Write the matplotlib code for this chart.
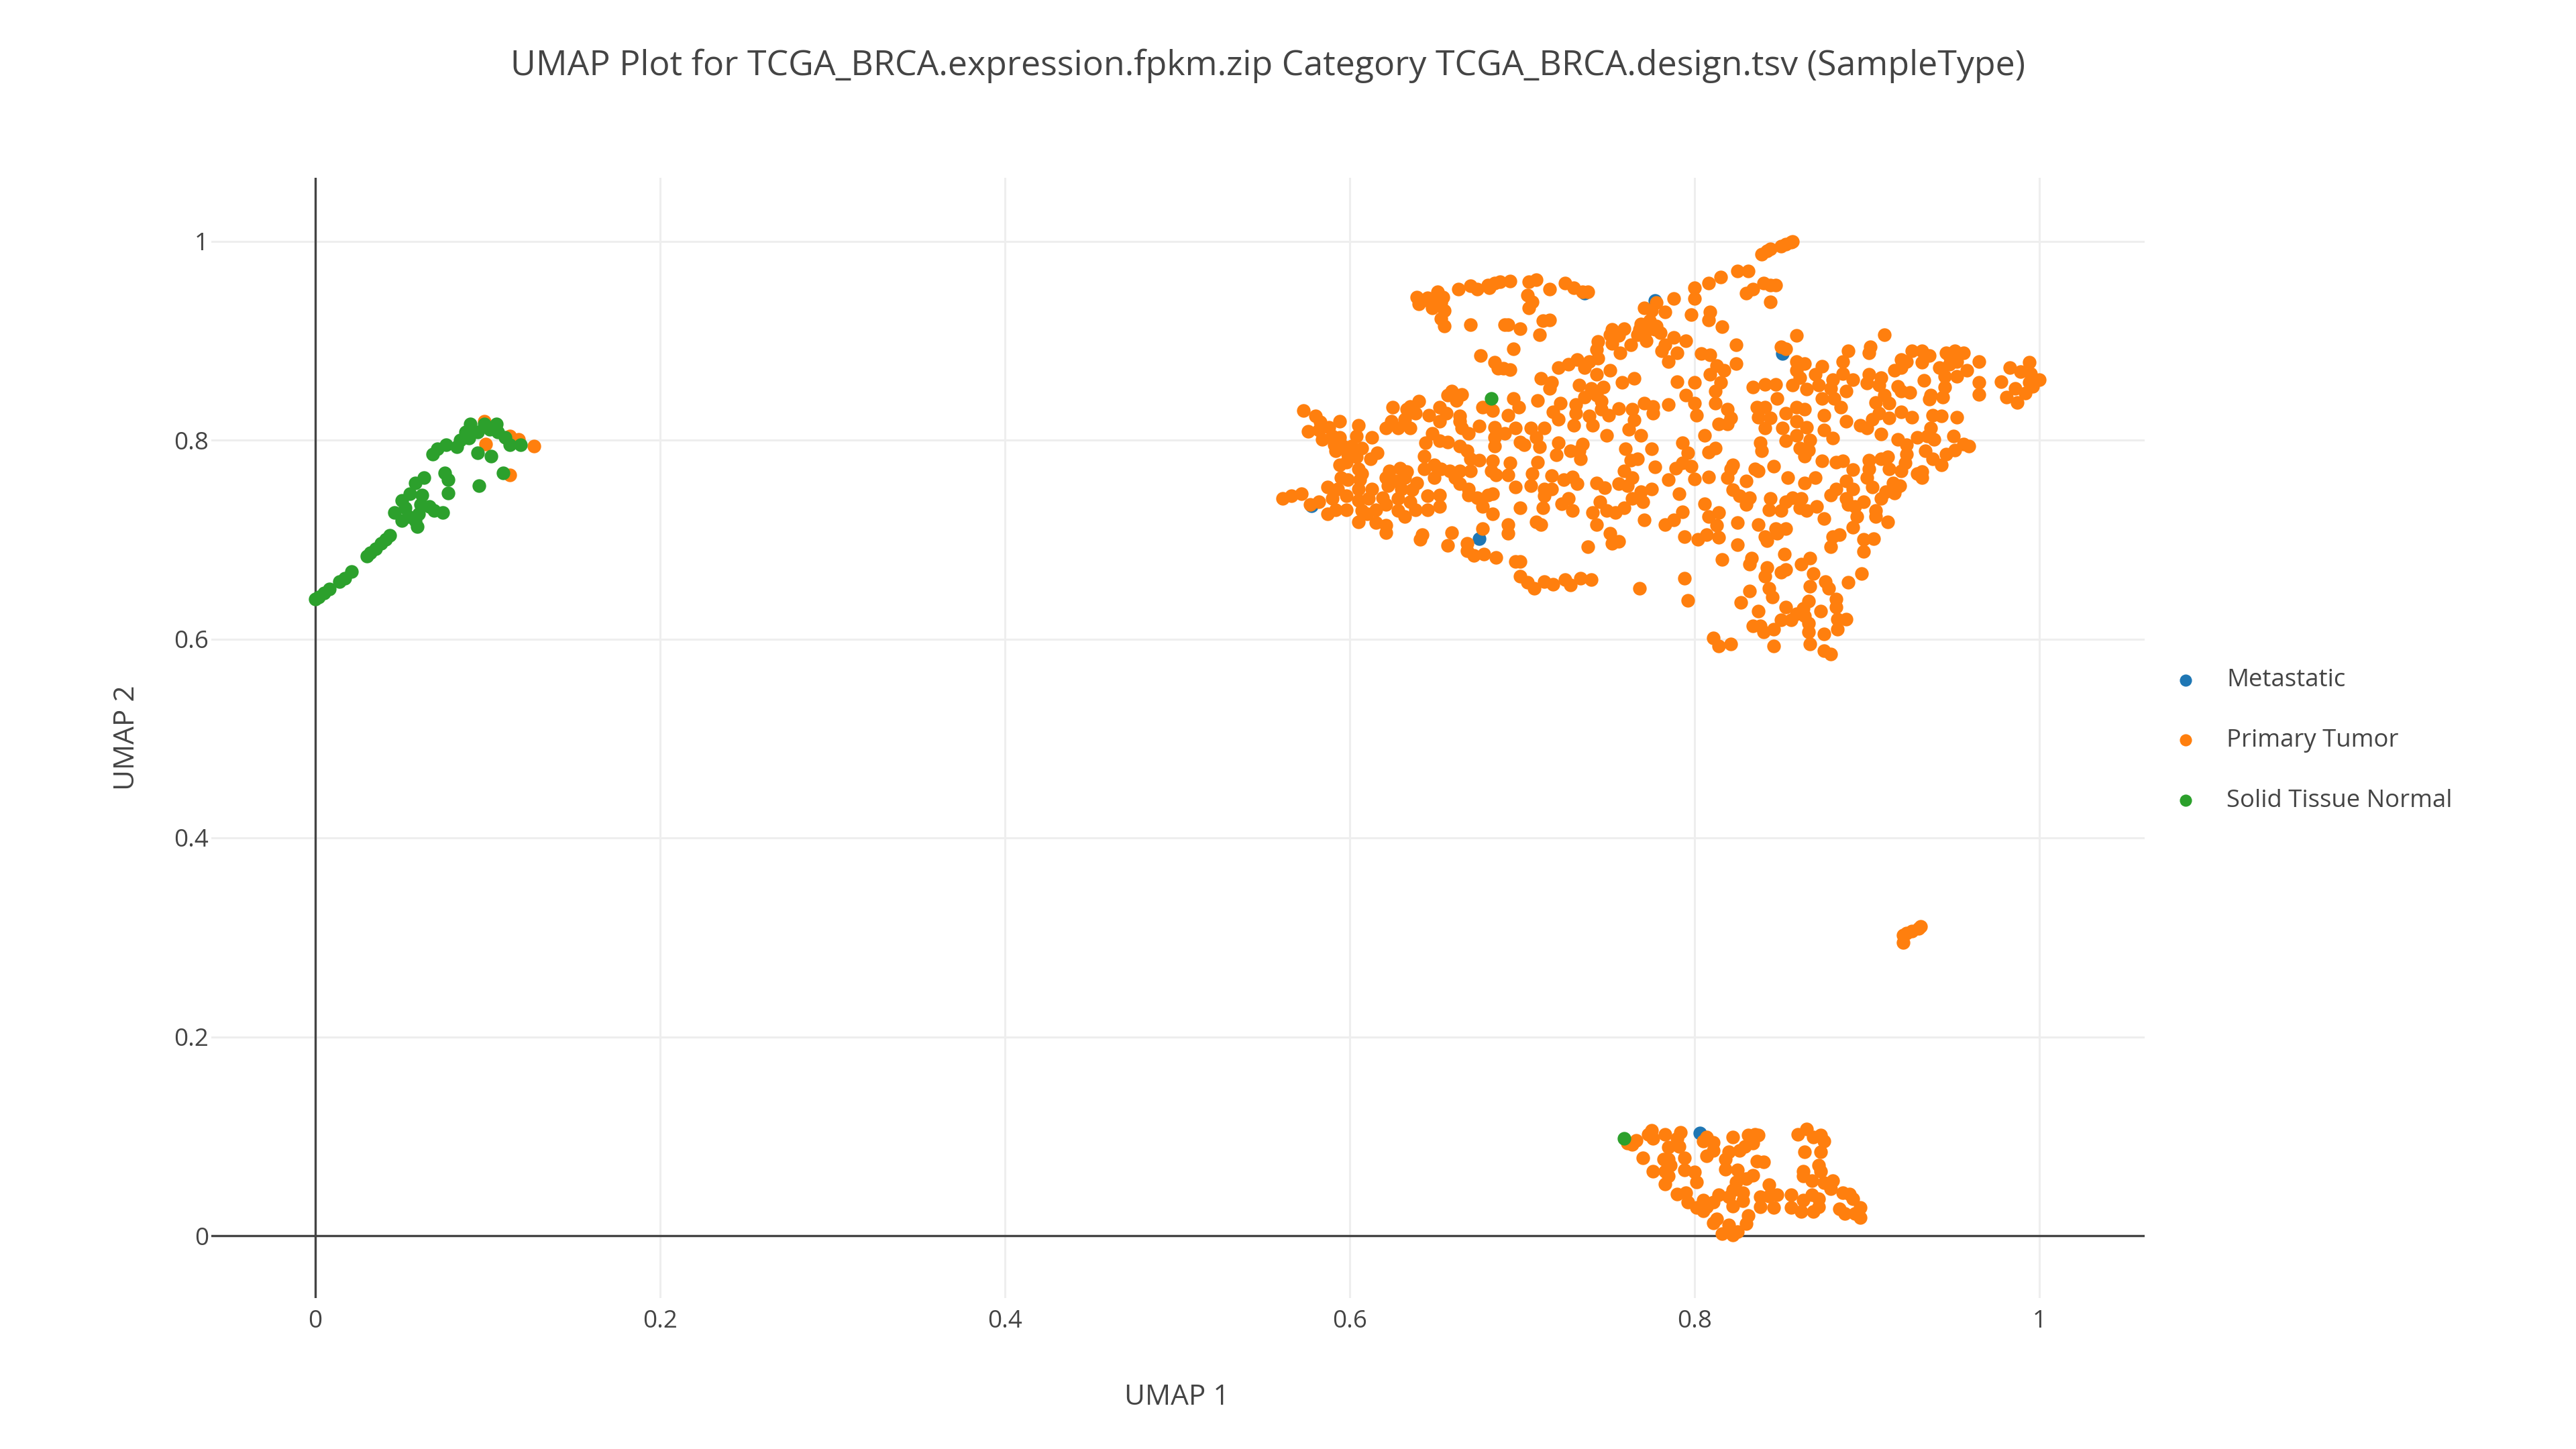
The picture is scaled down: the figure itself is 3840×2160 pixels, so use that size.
# coding:utf-8
import numpy as np
import matplotlib
matplotlib.use("Agg")
import matplotlib.pyplot as plt

plt.rcParams['font.family'] = ['Open Sans', 'DejaVu Sans']

title = "UMAP Plot for TCGA_BRCA.expression.fpkm.zip Category TCGA_BRCA.design.tsv (SampleType)"
tick_vals = [0, 0.2, 0.4, 0.6, 0.8, 1]
tick_labels = ["0", "0.2", "0.4", "0.6", "0.8", "1"]
legend_names = ["Metastatic", "Primary Tumor", "Solid Tissue Normal"]

# values, (UMAP 1, UMAP 2)
metastatic = [(.578, .734), (.675, .701), (.736, .948), (.777, .940), (.851, .887),
              (.803, .103), (.916, .755)]

solid_normal = [
    (.000, .640), (.002, .642), (.005, .646), (.008, .650), (.014, .658), (.017, .661),
    (.021, .668), (.030, .683), (.032, .687), (.035, .691), (.038, .696), (.041, .700),
    (.043, .704), (.046, .727), (.050, .719), (.050, .739), (.052, .732), (.055, .746),
    (.058, .757), (.063, .762), (.054, .723), (.059, .713), (.060, .726), (.062, .745),
    (.061, .735), (.066, .733), (.069, .729), (.074, .727), (.058, .719), (.068, .786),
    (.071, .791), (.076, .795), (.082, .793), (.084, .800), (.089, .802), (.087, .808),
    (.090, .816), (.094, .808), (.098, .816), (.101, .811), (.105, .816), (.106, .808),
    (.110, .803), (.113, .795), (.119, .795), (.094, .787), (.102, .784), (.109, .767),
    (.095, .754), (.075, .767), (.077, .760), (.077, .747),
    (.682, .842), (.759, .098),
]

tumor_near_normal = [(.098, .819), (.099, .796), (.113, .804), (.118, .801), (.127, .794), (.113, .765)]

tumor_left = [
    (.561, .741), (.566, .744), (.572, .746), (.573, .830), (.580, .824), (.583, .818),
    (.576, .809), (.582, .810), (.588, .813), (.594, .819), (.584, .801), (.590, .804),
    (.594, .803), (.591, .795), (.596, .794), (.592, .789), (.601, .794), (.607, .792),
    (.599, .786), (.604, .783), (.594, .775), (.598, .778), (.605, .815), (.604, .804),
    (.613, .803), (.616, .787), (.612, .781), (.605, .771), (.607, .766), (.606, .760),
    (.595, .762), (.599, .760), (.587, .753), (.593, .751), (.605, .751), (.613, .751),
    (.598, .744), (.590, .741), (.582, .738), (.577, .735), (.587, .726), (.592, .730),
    (.598, .730), (.605, .739), (.611, .741), (.619, .742), (.607, .729), (.610, .726),
    (.615, .730), (.605, .718), (.615, .717), (.621, .714), (.621, .707), (.623, .769),
    (.629, .772), (.633, .768), (.621, .762), (.627, .759), (.632, .762), (.639, .757),
    (.622, .754), (.630, .751), (.636, .750), (.628, .741), (.621, .735), (.628, .729),
    (.632, .723), (.638, .730), (.635, .738), (.645, .744), (.652, .745), (.645, .730),
    (.652, .733), (.625, .833), (.635, .834), (.640, .839), (.638, .827), (.633, .831),
    (.646, .825), (.652, .833), (.652, .819), (.656, .827), (.664, .824), (.664, .819),
    (.624, .819), (.621, .812), (.628, .812), (.632, .821), (.635, .812), (.657, .845),
    (.659, .849), (.665, .846), (.662, .840), (.677, .833), (.683, .830), (.675, .814),
    (.665, .812), (.669, .807), (.684, .813), (.684, .803), (.690, .807), (.684, .794),
    (.648, .807), (.644, .797), (.652, .799), (.657, .798), (.664, .794), (.668, .789),
    (.670, .781), (.675, .780), (.643, .784), (.643, .771), (.649, .775), (.653, .771),
    (.649, .762), (.658, .769), (.664, .769), (.670, .769), (.661, .762), (.664, .756),
    (.669, .751), (.669, .745), (.674, .742), (.680, .745), (.683, .746), (.677, .733),
    (.683, .726), (.683, .779), (.682, .769), (.685, .765), (.642, .705), (.641, .700),
    (.659, .707), (.657, .694), (.677, .711), (.668, .696), (.668, .689), (.672, .684),
    (.678, .685), (.685, .682), (.639, .944), (.640, .937), (.645, .943), (.651, .949),
    (.654, .944), (.653, .938), (.648, .933), (.655, .930), (.653, .922), (.655, .915),
    (.644, .941), (.650, .941), (.670, .916), (.690, .916), (.663, .952), (.670, .955),
    (.674, .952), (.680, .956), (.684, .958), (.681, .953), (.687, .959), (.676, .885),
    (.686, .872), (.684, .878), (.689, .872),
]

tumor_middle = [
    (.693, .960), (.704, .959), (.708, .961), (.716, .952), (.725, .958), (.730, .953),
    (.735, .949), (.738, .949), (.703, .946), (.706, .939), (.704, .933), (.712, .920),
    (.716, .921), (.710, .906), (.699, .912), (.692, .916), (.695, .892), (.693, .871),
    (.721, .873), (.727, .876), (.732, .881), (.739, .879), (.736, .873), (.744, .882),
    (.743, .866), (.751, .870), (.711, .862), (.717, .858), (.716, .852), (.758, .858),
    (.765, .862), (.733, .855), (.740, .852), (.747, .853), (.736, .843), (.743, .845),
    (.746, .839), (.731, .836), (.709, .840), (.722, .837), (.718, .828), (.721, .821),
    (.731, .827), (.730, .815), (.739, .824), (.741, .815), (.746, .831), (.750, .825),
    (.756, .832), (.764, .831), (.765, .820), (.762, .811), (.769, .805), (.749, .805),
    (.695, .842), (.698, .833), (.692, .825), (.705, .812), (.696, .812), (.713, .812),
    (.708, .803), (.699, .798), (.701, .795), (.710, .793), (.721, .797), (.720, .785),
    (.728, .789), (.735, .796), (.733, .789), (.734, .781), (.709, .778), (.706, .766),
    (.705, .754), (.693, .777), (.696, .753), (.692, .765), (.717, .764), (.724, .760),
    (.729, .763), (.732, .756), (.713, .751), (.717, .751), (.713, .744), (.699, .732),
    (.712, .732), (.723, .736), (.727, .741), (.729, .729), (.708, .718), (.711, .715),
    (.692, .715), (.692, .706), (.743, .757), (.748, .752), (.756, .756), (.759, .769),
    (.764, .762), (.761, .754), (.775, .751), (.769, .748), (.764, .741), (.770, .738),
    (.745, .738), (.749, .729), (.754, .727), (.759, .732), (.741, .727), (.743, .715),
    (.771, .720), (.751, .706), (.752, .696), (.756, .698), (.738, .693), (.760, .791),
    (.775, .791), (.763, .780), (.767, .781), (.777, .773), (.771, .837), (.776, .834),
    (.776, .827), (.785, .836), (.696, .678), (.699, .678), (.699, .663), (.703, .657),
    (.707, .651), (.713, .658), (.718, .655), (.725, .660), (.728, .654), (.734, .661),
    (.740, .660), (.768, .651),
]

tumor_upper = [
    (.788, .942), (.778, .938), (.783, .929), (.771, .933), (.775, .930), (.769, .917),
    (.774, .920), (.778, .915), (.768, .911), (.773, .911), (.777, .911), (.780, .908),
    (.772, .900), (.767, .906), (.751, .906), (.752, .911), (.759, .912), (.756, .905),
    (.763, .896), (.757, .888), (.752, .897), (.744, .899), (.743, .891), (.788, .903),
    (.783, .896), (.781, .890), (.795, .900), (.790, .888), (.785, .879), (.798, .926),
    (.809, .929), (.808, .921), (.816, .914), (.824, .896), (.824, .877), (.800, .953),
    (.800, .942), (.808, .958), (.815, .964), (.825, .970), (.831, .970), (.839, .987),
    (.844, .992), (.850, .995), (.856, .999), (.857, 1.0), (.853, .997), (.842, .990),
    (.830, .948), (.834, .952), (.840, .958), (.844, .956), (.847, .956), (.844, .939),
    (.859, .905), (.910, .906), (.850, .894), (.853, .892),
]

tumor_right = [
    (.859, .879), (.864, .877), (.859, .870), (.874, .874), (.870, .866), (.861, .863),
    (.857, .855), (.865, .851), (.872, .855), (.889, .890), (.886, .879), (.902, .894),
    (.901, .888), (.880, .861), (.886, .867), (.892, .861), (.888, .849), (.879, .852),
    (.874, .842), (.881, .842), (.901, .866), (.908, .863), (.900, .857), (.907, .855),
    (.916, .870), (.920, .873), (.920, .881), (.926, .890), (.923, .879), (.932, .890),
    (.936, .885), (.932, .878), (.946, .888), (.951, .890), (.956, .888), (.942, .873),
    (.948, .876), (.952, .879), (.945, .864), (.952, .864), (.958, .870), (.948, .884),
    (.965, .879), (.983, .873), (.978, .859), (.994, .878), (.989, .869), (.995, .867),
    (1.0, .861), (.994, .858), (.996, .854), (.986, .852), (.992, .847), (.981, .843),
    (.987, .838), (.965, .858), (.965, .846), (.933, .860), (.945, .853), (.937, .845),
    (.936, .841), (.944, .843), (.918, .854), (.925, .848), (.910, .845), (.905, .838),
    (.913, .837), (.920, .849), (.920, .828), (.926, .823), (.938, .825), (.943, .824),
    (.952, .823), (.907, .827), (.903, .821), (.913, .822), (.896, .815), (.900, .812),
    (.908, .806), (.918, .801), (.937, .812), (.929, .803), (.935, .804), (.939, .801),
    (.950, .804), (.923, .795), (.923, .786), (.956, .796), (.959, .794), (.951, .790),
    (.946, .786), (.934, .789), (.938, .781), (.943, .775), (.922, .777), (.920, .769),
    (.929, .766), (.932, .768), (.932, .762), (.919, .754), (.916, .747), (.911, .748),
    (.908, .741), (.912, .783), (.908, .781), (.901, .780), (.913, .771), (.901, .771),
    (.900, .762), (.903, .753), (.892, .770), (.892, .751), (.888, .759), (.882, .751),
    (.879, .745), (.874, .779), (.882, .778), (.886, .779), (.915, .757), (.917, .752),
]

tumor_center = [
    (.790, .859), (.800, .858), (.804, .887), (.809, .886), (.813, .875), (.817, .870),
    (.809, .866), (.815, .858), (.812, .849), (.812, .837), (.795, .845), (.800, .837),
    (.801, .825), (.834, .853), (.841, .856), (.847, .856), (.848, .842), (.793, .797),
    (.796, .787), (.806, .805), (.808, .788), (.812, .792), (.789, .772), (.793, .777),
    (.798, .774), (.800, .761), (.785, .760), (.808, .763), (.791, .746), (.819, .762),
    (.821, .771), (.822, .775), (.830, .759), (.835, .771), (.837, .769), (.846, .774),
    (.854, .762), (.864, .757), (.870, .762), (.822, .750), (.826, .744), (.832, .742),
    (.830, .735), (.806, .736), (.808, .723), (.814, .727), (.813, .714), (.793, .728),
    (.788, .720), (.783, .715), (.794, .703), (.802, .700), (.807, .705), (.814, .702),
    (.825, .717), (.837, .715), (.825, .695), (.794, .661), (.796, .639), (.819, .831),
    (.821, .822), (.814, .816), (.819, .816), (.836, .833), (.841, .833), (.837, .823),
    (.844, .822), (.841, .812), (.851, .812), (.853, .827), (.859, .833), (.864, .831),
    (.859, .819), (.865, .813), (.859, .805), (.838, .797), (.839, .789), (.853, .799),
    (.867, .800), (.861, .792), (.866, .790), (.864, .784), (.875, .825), (.875, .810),
    (.880, .802), (.885, .833), (.888, .819),
]

tumor_lower = [
    (.888, .741), (.893, .733), (.889, .735), (.898, .738), (.905, .729), (.905, .723),
    (.912, .718), (.894, .723), (.892, .712), (.880, .703), (.884, .705), (.879, .693),
    (.898, .700), (.904, .701), (.898, .688), (.875, .721), (.871, .733), (.865, .729),
    (.861, .732), (.857, .742), (.862, .741), (.853, .738), (.844, .741), (.843, .730),
    (.850, .729), (.847, .711), (.853, .711), (.841, .703), (.842, .699), (.848, .706),
    (.852, .685), (.867, .681), (.862, .675), (.869, .666), (.897, .666), (.889, .657),
    (.853, .670), (.850, .667), (.842, .672), (.841, .663), (.833, .681), (.832, .675),
    (.816, .680), (.843, .651), (.845, .642), (.832, .648), (.827, .637), (.867, .653),
    (.876, .658), (.878, .651), (.882, .640), (.882, .632), (.866, .638), (.863, .631),
    (.859, .625), (.853, .632), (.837, .628), (.850, .619), (.856, .619), (.864, .623),
    (.873, .628), (.883, .620), (.888, .620), (.838, .613), (.834, .613), (.846, .610),
    (.840, .607), (.866, .616), (.866, .607), (.883, .610), (.875, .605), (.867, .595),
    (.846, .593), (.875, .588), (.879, .585), (.811, .601), (.814, .593), (.821, .595),
]

tumor_bottom = [
    (.764, .092), (.766, .096), (.761, .093), (.775, .106), (.773, .102), (.776, .098),
    (.783, .102), (.792, .104), (.790, .098), (.791, .090), (.785, .089), (.807, .099),
    (.805, .095), (.811, .094), (.811, .086), (.807, .080), (.770, .078), (.776, .065),
    (.782, .077), (.785, .077), (.786, .071), (.783, .065), (.785, .060), (.783, .052),
    (.794, .078), (.794, .066), (.800, .064), (.801, .054), (.822, .099), (.831, .101),
    (.835, .102), (.837, .101), (.834, .093), (.829, .090), (.826, .086), (.820, .084),
    (.818, .077), (.836, .075), (.840, .074), (.818, .067), (.825, .066), (.834, .061),
    (.830, .057), (.824, .054), (.843, .051), (.848, .041), (.838, .039), (.843, .040),
    (.846, .028), (.838, .029), (.828, .043), (.822, .046), (.814, .041), (.820, .039),
    (.828, .035), (.822, .030), (.811, .034), (.790, .042), (.795, .043), (.796, .034),
    (.805, .036), (.801, .028), (.805, .025), (.807, .029), (.813, .017), (.811, .013),
    (.816, .002), (.820, .011), (.822, .001), (.825, .004), (.830, .012), (.831, .020),
    (.860, .102), (.865, .107), (.869, .099), (.873, .101), (.875, .095), (.864, .084),
    (.873, .084), (.872, .071), (.863, .065), (.863, .060), (.873, .065), (.868, .055),
    (.880, .055), (.879, .047), (.875, .053), (.856, .041), (.863, .036), (.872, .037),
    (.868, .041), (.856, .028), (.862, .024), (.869, .024), (.872, .029), (.886, .043),
    (.890, .042), (.892, .037), (.884, .027), (.887, .022), (.896, .028), (.893, .022),
    (.896, .018),
]

tumor_small = [(.921, .295), (.921, .302), (.926, .306), (.931, .311), (.930, .309), (.923, .304)]

primary_tumor = (tumor_near_normal + tumor_left + tumor_middle + tumor_upper + tumor_right
                 + tumor_center + tumor_lower + tumor_bottom + tumor_small)

colors = ["#1f77b4", "#ff7f0e", "#2ca02c"]
text_color = "#444444"
W, H = 3840, 2160

fig = plt.figure(figsize=(38.4, 21.6), dpi=100, facecolor="white")
ax = fig.add_axes([315 / W, 1 - 1935 / H, (3197 - 315) / W, (1935 - 265) / H])

for name, pts, c in zip(legend_names, [metastatic, primary_tumor, solid_normal], colors):
    pts = np.array(pts)
    ax.scatter(pts[:, 0], pts[:, 1], s=215, color=c, linewidths=0, zorder=3, label=name, clip_on=False)

ax.set_xlim((315 - 470) / 2570, (3197 - 470) / 2570)
ax.set_ylim((1842 - 1935) / 1482.5, (1842 - 265) / 1482.5)
ax.set_xticks(tick_vals)
ax.set_xticklabels(tick_labels)
ax.set_yticks(tick_vals)
ax.set_yticklabels(tick_labels)
ax.tick_params(length=0, labelsize=26.5, labelcolor=text_color)
ax.tick_params(axis="x", pad=12)
ax.tick_params(axis="y", pad=3)

ax.grid(True, color="#eeeeee", linewidth=2.2)
ax.set_axisbelow(True)
for s in ax.spines.values():
    s.set_visible(False)
ax.axhline(0, color=text_color, linewidth=2.4, zorder=2)
ax.axvline(0, color=text_color, linewidth=2.4, zorder=2)

fig.text(1890 / W, 1 - 98 / H, title, ha="center", va="center", fontsize=37.4, color=text_color)
fig.text(1754 / W, 1 - 2083 / H, "UMAP 1", ha="center", va="center", fontsize=30.5, color=text_color)
fig.text(189 / W, 1 - 1100 / H, "UMAP 2", ha="center", va="center", rotation=90, fontsize=30.5, color=text_color)

leg = ax.legend(loc="center left", bbox_to_anchor=(3221.5 / W, 1 - 1104 / H), bbox_transform=fig.transFigure,
                frameon=False, fontsize=26.3, handletextpad=0.67, labelspacing=1.47, markerscale=0.89,
                borderpad=0, borderaxespad=0)
for t in leg.get_texts():
    t.set_color(text_color)

fig.savefig("out.png", dpi=100)
